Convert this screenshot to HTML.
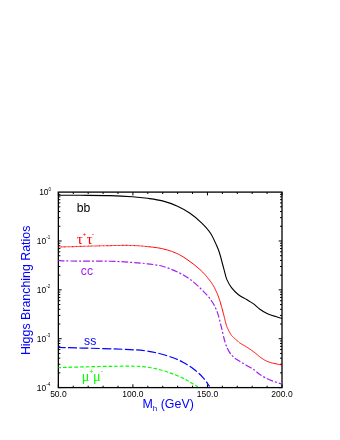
<!DOCTYPE html>
<html><head><meta charset="utf-8">
<style>
html,body{margin:0;padding:0;background:#fff;}
body{width:340px;height:440px;overflow:hidden;font-family:"Liberation Sans",sans-serif;}
svg{display:block;will-change:transform;}
text{font-family:"Liberation Sans",sans-serif;}
</style></head><body>
<svg width="340" height="440" viewBox="0 0 340 440">
<rect width="340" height="440" fill="#fff"/>
<!-- frame -->
<rect x="58.35" y="192.1" width="223.65" height="195.50" fill="none" stroke="#000" stroke-width="1.3"/>
<path d="M58.35 387.60v-3.30 M58.35 192.10v3.30 M73.26 387.60v-1.90 M73.26 192.10v1.90 M88.17 387.60v-1.90 M88.17 192.10v1.90 M103.08 387.60v-1.90 M103.08 192.10v1.90 M117.99 387.60v-1.90 M117.99 192.10v1.90 M132.90 387.60v-3.30 M132.90 192.10v3.30 M147.81 387.60v-1.90 M147.81 192.10v1.90 M162.72 387.60v-1.90 M162.72 192.10v1.90 M177.63 387.60v-1.90 M177.63 192.10v1.90 M192.54 387.60v-1.90 M192.54 192.10v1.90 M207.45 387.60v-3.30 M207.45 192.10v3.30 M222.36 387.60v-1.90 M222.36 192.10v1.90 M237.27 387.60v-1.90 M237.27 192.10v1.90 M252.18 387.60v-1.90 M252.18 192.10v1.90 M267.09 387.60v-1.90 M267.09 192.10v1.90 M282.00 387.60v-3.30 M282.00 192.10v3.30 M58.35 240.97h3.30 M282.00 240.97h-3.30 M58.35 226.26h2.00 M282.00 226.26h-2.00 M58.35 217.66h2.00 M282.00 217.66h-2.00 M58.35 211.55h2.00 M282.00 211.55h-2.00 M58.35 206.81h2.00 M282.00 206.81h-2.00 M58.35 202.94h2.00 M282.00 202.94h-2.00 M58.35 199.67h2.00 M282.00 199.67h-2.00 M58.35 196.84h2.00 M282.00 196.84h-2.00 M58.35 194.34h2.00 M282.00 194.34h-2.00 M58.35 289.85h3.30 M282.00 289.85h-3.30 M58.35 275.14h2.00 M282.00 275.14h-2.00 M58.35 266.53h2.00 M282.00 266.53h-2.00 M58.35 260.42h2.00 M282.00 260.42h-2.00 M58.35 255.69h2.00 M282.00 255.69h-2.00 M58.35 251.82h2.00 M282.00 251.82h-2.00 M58.35 248.55h2.00 M282.00 248.55h-2.00 M58.35 245.71h2.00 M282.00 245.71h-2.00 M58.35 243.21h2.00 M282.00 243.21h-2.00 M58.35 338.73h3.30 M282.00 338.73h-3.30 M58.35 324.01h2.00 M282.00 324.01h-2.00 M58.35 315.41h2.00 M282.00 315.41h-2.00 M58.35 309.30h2.00 M282.00 309.30h-2.00 M58.35 304.56h2.00 M282.00 304.56h-2.00 M58.35 300.69h2.00 M282.00 300.69h-2.00 M58.35 297.42h2.00 M282.00 297.42h-2.00 M58.35 294.59h2.00 M282.00 294.59h-2.00 M58.35 292.09h2.00 M282.00 292.09h-2.00 M58.35 387.60h3.30 M282.00 387.60h-3.30 M58.35 372.89h2.00 M282.00 372.89h-2.00 M58.35 364.28h2.00 M282.00 364.28h-2.00 M58.35 358.17h2.00 M282.00 358.17h-2.00 M58.35 353.44h2.00 M282.00 353.44h-2.00 M58.35 349.57h2.00 M282.00 349.57h-2.00 M58.35 346.30h2.00 M282.00 346.30h-2.00 M58.35 343.46h2.00 M282.00 343.46h-2.00 M58.35 340.96h2.00 M282.00 340.96h-2.00" stroke="#000" stroke-width="1.0" fill="none"/>
<!-- curves -->
<g fill="none" stroke-linecap="butt" stroke-linejoin="round">
<path d="M58.50 195.20 C62.08 195.22 71.42 195.23 80.00 195.30 C88.58 195.37 101.25 195.37 110.00 195.60 C118.75 195.83 126.25 196.25 132.50 196.70 C138.75 197.15 142.50 197.60 147.50 198.30 C152.50 199.00 157.50 199.58 162.50 200.90 C167.50 202.22 172.92 204.18 177.50 206.25 C182.08 208.32 185.95 210.49 190.00 213.30 C194.05 216.11 198.35 219.73 201.80 223.10 C205.25 226.47 208.03 229.30 210.70 233.50 C213.37 237.70 216.18 244.55 217.80 248.30 C219.42 252.05 219.63 253.47 220.40 256.00 C221.17 258.53 221.75 261.07 222.40 263.50 C223.05 265.93 223.57 267.95 224.30 270.60 C225.03 273.25 225.60 276.57 226.80 279.40 C228.00 282.23 229.55 285.05 231.50 287.60 C233.45 290.15 235.98 292.72 238.50 294.70 C241.02 296.68 244.15 298.02 246.60 299.50 C249.05 300.98 250.98 301.98 253.20 303.60 C255.42 305.22 257.68 307.60 259.90 309.20 C262.12 310.80 264.30 312.10 266.50 313.20 C268.70 314.30 270.52 314.93 273.10 315.80 C275.68 316.67 280.52 317.97 282.00 318.40" stroke="#000" stroke-width="1.1"/>
<path d="M58.50 247.00 L58.96 246.99 L59.42 246.98 L59.90 246.96 L60.43 246.95 L61.03 246.94 L61.75 246.92 L62.61 246.90 L63.63 246.87 L64.85 246.84 L66.30 246.80 L68.01 246.75 L70.00 246.70 L72.39 246.63 L75.22 246.55 L78.41 246.46 L81.87 246.36 L85.53 246.25 L89.31 246.14 L93.13 246.03 L96.91 245.92 L100.56 245.82 L104.02 245.73 L107.19 245.66 L110.00 245.60 L112.51 245.55 L114.85 245.51 L117.03 245.48 L119.07 245.45 L121.00 245.43 L122.81 245.41 L124.54 245.41 L126.20 245.41 L127.81 245.42 L129.39 245.44 L130.94 245.46 L132.50 245.50 L134.01 245.55 L135.43 245.60 L136.78 245.67 L138.06 245.74 L139.28 245.82 L140.47 245.91 L141.63 246.01 L142.78 246.11 L143.93 246.22 L145.09 246.34" stroke="#f00" stroke-width="1.1" stroke-dasharray="0.95 0.4"/>
<path d="M145.09 246.34 L146.27 246.47 L147.50 246.60 L148.75 246.73 L150.00 246.86 L151.25 247.00 L152.50 247.13 L153.75 247.28 L155.00 247.43 L156.25 247.60 L157.50 247.78 L158.75 247.99 L160.00 248.21 L161.25 248.47 L162.50 248.75 L163.76 249.06 L165.03 249.39 L166.31 249.73 L167.59 250.10 L168.88 250.49 L170.16 250.89 L171.43 251.32 L172.69 251.77 L173.93 252.23 L175.14 252.72 L176.34 253.22 L177.50 253.75 L178.63 254.30 L179.74 254.87 L180.82 255.47 L181.88 256.09 L182.92 256.73 L183.95 257.38 L184.97 258.05 L185.98 258.74 L186.98 259.44 L187.99 260.15 L188.99 260.87 L190.00 261.60 L191.02 262.34 L192.04 263.10 L193.07 263.88 L194.09 264.67 L195.11 265.48 L196.13 266.29 L197.12 267.12 L198.11 267.95 L199.07 268.78 L200.01 269.62 L200.92 270.46 L201.80 271.30 L202.66 272.15 L203.50 273.02 L204.32 273.90 L205.13 274.79 L205.92 275.69 L206.68 276.59 L207.42 277.48 L208.14 278.36 L208.82 279.23 L209.48 280.08 L210.11 280.90 L210.70 281.70 L211.25 282.46 L211.76 283.19 L212.23 283.89 L212.67 284.57 L213.08 285.24 L213.46 285.89 L213.83 286.55 L214.19 287.21 L214.54 287.88 L214.89 288.56 L215.24 289.27 L215.60 290.00 L215.96 290.75 L216.31 291.49 L216.65 292.24 L216.98 292.99 L217.30 293.75 L217.62 294.52 L217.93 295.32 L218.24 296.13 L218.56 296.98 L218.87 297.85 L219.18 298.75 L219.50 299.70 L219.82 300.70 L220.15 301.75 L220.48 302.85 L220.81 303.99 L221.14 305.16 L221.46 306.34 L221.79 307.52 L222.10 308.71 L222.42 309.88 L222.72 311.02 L223.02 312.13 L223.30 313.20 L223.58 314.25 L223.85 315.31 L224.11 316.37 L224.37 317.43 L224.62 318.47 L224.86 319.49 L225.10 320.48 L225.33 321.43 L225.56 322.34 L225.78 323.19 L225.99 323.98 L226.20 324.70 L226.40 325.34 L226.58 325.90 L226.74 326.38 L226.90 326.81 L227.05 327.19 L227.20 327.54 L227.35 327.87 L227.50 328.19 L227.66 328.51 L227.82 328.84 L228.00 329.20 L228.20 329.60 L228.41 330.03 L228.63 330.47 L228.86 330.93 L229.10 331.39 L229.34 331.85 L229.59 332.31 L229.85 332.77 L230.10 333.21 L230.35 333.64 L230.61 334.05 L230.86 334.44 L231.10 334.80 L231.34 335.13 L231.57 335.44 L231.80 335.72 L232.03 335.98 L232.26 336.23 L232.49 336.47 L232.73 336.70 L232.97 336.93 L233.21 337.16 L233.46 337.40 L233.73 337.64 L234.00 337.90 L234.29 338.17 L234.60 338.45 L234.92 338.74 L235.26 339.04 L235.60 339.33 L235.94 339.62 L236.28 339.91 L236.62 340.20 L236.94 340.47 L237.25 340.73 L237.54 340.97 L237.80 341.20 L238.02 341.40 L238.20 341.57 L238.34 341.71 L238.46 341.84 L238.57 341.96 L238.68 342.08 L238.80 342.20 L238.94 342.33 L239.12 342.48 L239.35 342.65 L239.64 342.86 L240.00 343.10 L240.43 343.38 L240.93 343.68 L241.49 344.01 L242.09 344.36 L242.72 344.72 L243.38 345.10 L244.06 345.49 L244.75 345.89 L245.44 346.29 L246.11 346.70 L246.77 347.10 L247.40 347.50 L248.01 347.90 L248.62 348.30 L249.23 348.71 L249.84 349.12 L250.44 349.53 L251.05 349.96 L251.66 350.38 L252.26 350.81 L252.87 351.25 L253.48 351.70 L254.09 352.14 L254.70 352.60 L255.31 353.07 L255.93 353.56 L256.55 354.07 L257.16 354.59 L257.78 355.11 L258.40 355.64 L259.02 356.16 L259.64 356.67 L260.25 357.16 L260.87 357.63 L261.49 358.08 L262.10 358.50 L262.69 358.89 L263.26 359.25 L263.81 359.60 L264.34 359.93 L264.88 360.24 L265.43 360.54 L265.99 360.83 L266.58 361.11 L267.20 361.38 L267.88 361.66 L268.61 361.93 L269.40 362.20 L270.30 362.48 L271.34 362.76 L272.47 363.05 L273.67 363.33 L274.91 363.61 L276.16 363.88 L277.37 364.14 L278.54 364.38 L279.61 364.60 L280.57 364.79 L281.37 364.96 L282.00 365.10" stroke="#f00" stroke-width="1.0"/>
<path d="M58.50 260.50 C60.42 260.58 61.42 260.88 70.00 261.00 C78.58 261.12 99.58 261.00 110.00 261.25 C120.42 261.50 126.25 262.07 132.50 262.50 C138.75 262.93 142.50 263.18 147.50 263.80 C152.50 264.43 157.50 264.88 162.50 266.25 C167.50 267.62 172.92 269.82 177.50 272.00 C182.08 274.18 185.95 276.35 190.00 279.30 C194.05 282.25 198.25 286.17 201.80 289.70 C205.35 293.23 208.73 296.80 211.30 300.50 C213.87 304.20 215.55 307.57 217.20 311.90 C218.85 316.23 219.88 321.43 221.20 326.50 C222.52 331.57 223.78 338.12 225.10 342.30 C226.42 346.48 227.55 349.03 229.10 351.60 C230.65 354.17 232.58 356.05 234.40 357.70 C236.22 359.35 237.83 360.13 240.00 361.50 C242.17 362.87 244.95 364.43 247.40 365.90 C249.85 367.37 252.75 368.95 254.70 370.30 C256.65 371.65 257.38 372.78 259.10 374.00 C260.82 375.22 262.78 376.45 265.00 377.60 C267.22 378.75 269.57 379.80 272.40 380.90 C275.23 382.00 280.40 383.65 282.00 384.20" stroke="#a020f0" stroke-width="1.2" stroke-dasharray="6.69 1.98 2.06 1.98" stroke-dashoffset="0.65"/>
<path d="M58.50 347.50 C65.42 347.67 88.08 348.15 100.00 348.50 C111.92 348.85 122.35 349.20 130.00 349.60 C137.65 350.00 141.05 350.25 145.90 350.90 C150.75 351.55 154.70 352.40 159.10 353.50 C163.50 354.60 168.33 356.05 172.30 357.50 C176.27 358.95 179.37 360.30 182.90 362.20 C186.43 364.10 190.18 366.38 193.50 368.90 C196.82 371.42 200.12 374.37 202.80 377.30 C205.48 380.23 208.47 384.97 209.60 386.50" stroke="#0000ff" stroke-width="1.2" stroke-dasharray="8.9 2.43" stroke-dashoffset="1.7"/>
<path d="M58.50 367.60 C65.42 367.42 88.08 366.73 100.00 366.50 C111.92 366.27 122.80 366.17 130.00 366.20 C137.20 366.23 138.78 366.25 143.20 366.70 C147.62 367.15 152.08 367.88 156.50 368.90 C160.92 369.92 165.30 371.27 169.70 372.80 C174.10 374.33 179.38 376.47 182.90 378.10 C186.42 379.73 188.32 381.15 190.80 382.60 C193.28 384.05 196.63 386.10 197.80 386.80" stroke="#00ff00" stroke-width="1.2" stroke-dasharray="3.7 1.96" stroke-dashoffset="1.1"/>
</g>
<!-- x tick labels -->
<g font-size="8.5" fill="#000" text-anchor="middle">
<text x="58.4" y="397.35">50.0</text>
<text x="132.9" y="397.35">100.0</text>
<text x="207.5" y="397.35">150.0</text>
<text x="282.0" y="397.35">200.0</text>
</g>
<!-- y tick labels -->
<g font-size="8.5" fill="#000" text-anchor="end">
<text x="48.6" y="195.2">10</text><text x="48.6" y="190.5" font-size="4.5" text-anchor="start">0</text>
<text x="46.2" y="244.1">10</text><text x="46.2" y="239.4" font-size="4.5" text-anchor="start">-1</text>
<text x="46.2" y="293.0">10</text><text x="46.2" y="288.2" font-size="4.5" text-anchor="start">-2</text>
<text x="46.2" y="341.8">10</text><text x="46.2" y="337.1" font-size="4.5" text-anchor="start">-3</text>
<text x="46.2" y="390.7">10</text><text x="46.2" y="386.0" font-size="4.5" text-anchor="start">-4</text>
</g>
<!-- axis labels -->
<text x="142.5" y="408" font-size="12.4" fill="#0000ff">M<tspan font-size="8" dy="2.5">h</tspan><tspan dy="-2.5"> (GeV)</tspan></text>
<text transform="translate(30.2 355.1) rotate(-90)" font-size="12.4" fill="#0000ff">Higgs Branching Ratios</text>
<!-- curve labels -->
<text x="76.7" y="211.8" font-size="12.2" fill="#000">bb</text>
<g fill="#f00"><text x="76.7" y="243.7" font-size="15.3" style="font-family:'Liberation Serif',serif">τ</text><text x="84.2" y="235.8" font-size="6.2" text-anchor="middle">+</text><text x="86.4" y="243.7" font-size="15.3" style="font-family:'Liberation Serif',serif">τ</text><text x="92.9" y="235.6" font-size="7" text-anchor="middle">-</text></g>
<text x="80.8" y="275.4" font-size="12.2" fill="#a020f0">cc</text>
<text x="84.1" y="345" font-size="12.2" fill="#0000ff">ss</text>
<g fill="#00ff00"><text x="81.7" y="380.8" font-size="14.3" style="font-family:'Liberation Serif',serif">μ</text><text x="91.4" y="373.8" font-size="7.2" text-anchor="middle">+</text><text x="93.1" y="380.8" font-size="14.3" style="font-family:'Liberation Serif',serif">μ</text><text x="101.9" y="373.1" font-size="7" text-anchor="middle">-</text></g>
</svg>
</body></html>
